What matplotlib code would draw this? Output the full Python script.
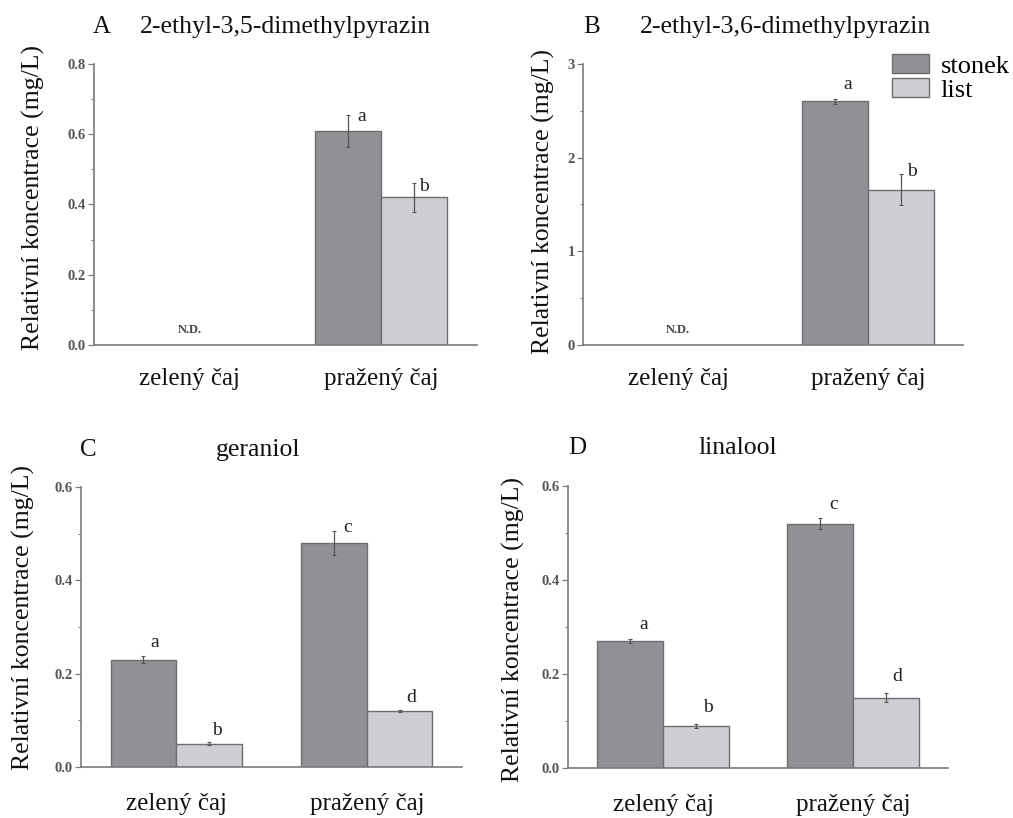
import matplotlib
matplotlib.use("Agg")
import matplotlib.pyplot as plt
from matplotlib.patches import Patch
from matplotlib.ticker import MultipleLocator

plt.rcParams['font.family'] = ['Liberation Serif', 'DejaVu Serif']

groups = ["zelený čaj", "pražený čaj"]
series = ["stonek", "list"]

panel_letters = ["A", "B", "C", "D"]
compounds = ["2-ethyl-3,5-dimethylpyrazin", "2-ethyl-3,6-dimethylpyrazin",
             "geraniol", "linalool"]

# concentrations [stonek, list] per group; None = not detected
stonek_vals = [[None, 0.61], [None, 2.60], [0.23, 0.48], [0.27, 0.52]]
stonek_err = [[0, 0.045], [0, 0.03], [0.008, 0.025], [0.004, 0.012]]
list_vals = [[None, 0.42], [None, 1.66], [0.05, 0.12], [0.09, 0.15]]
list_err = [[0, 0.04], [0, 0.17], [0.003, 0.002], [0.004, 0.01]]

stonek_sig = [[None, "a"], [None, "a"], ["a", "c"], ["a", "c"]]
list_sig = [[None, "b"], [None, "b"], ["b", "d"], ["b", "d"]]

y_max = [0.8, 3, 0.6, 0.6]
y_major = [0.2, 1, 0.2, 0.2]
y_fmt = ["{:.1f}", "{:.0f}", "{:.1f}", "{:.1f}"]

# layout: axes rectangles in pixels (left, top, right, bottom)
W, H = 1013, 818
rects_px = [(94, 64, 477, 345), (583, 64, 963, 345),
            (81, 487, 462, 767), (568, 486, 948, 768)]
# y-label anchor in pixels (right edge x, centre y)
ylabel_px = [(45, 197), (555, 202), (35, 618), (525, 630)]
# x tick label pad (points)
xpad = [16.5, 16.5, 18.5, 18.5]
# significance letter offsets in pixels (dx, dy) from the top of each error bar
sig_off_stonek = [[None, (13, -2)], [None, (12, 14)], [(11, 13), (14, 4)], [(13, 15), (13, 13)]]
sig_off_list = [[None, (10, -3)], [None, (11, 2)], [(8, 12), (12, 13)], [(12, 16), (11, 16)]]
# panel letter / title positions in pixels
letter_px = [(102, 27), (592, 27), (88, 450), (577, 448)]
title_px = [(285, 27), (785, 27), (258, 450), (738, 448)]

c_dark = "#8f9195"
c_light = "#cdcfd2"
c_edge = "#6e6e70"
c_axis = "#7a7a7a"
c_tick = "#555555"

PX = 72 / 100  # points per pixel

fig = plt.figure(figsize=(W / 100, H / 100), dpi=100)
bw = 0.345

for i in range(4):
    l, t, r, b = rects_px[i]
    ax = fig.add_axes([l / W, 1 - b / H, (r - l) / W, (b - t) / H])
    for j, g in enumerate(groups):
        for k, (vals, errs, sigs, offs, col) in enumerate([
                (stonek_vals, stonek_err, stonek_sig, sig_off_stonek, c_dark),
                (list_vals, list_err, list_sig, sig_off_list, c_light)]):
            v = vals[i][j]
            if v is None:
                continue
            x = j + (k - 0.5) * bw
            e = errs[i][j]
            ax.bar(x, v, width=bw, color=col, edgecolor=c_edge, linewidth=1.0, zorder=2)
            ax.errorbar(x, v, yerr=e, fmt='none', ecolor="#555555", elinewidth=0.9,
                        capsize=1.5, capthick=0.8, zorder=3)
            dx, dy = offs[i][j]
            ax.annotate(sigs[i][j], xy=(x, v + e), xytext=(dx * PX, dy * PX),
                        textcoords="offset points", ha="center", va="center",
                        fontsize=14, color="#222222", zorder=4)
        if all(vals[i][j] is None for vals in (stonek_vals, list_vals)):
            ax.annotate("N.D.", xy=(j, 0), xytext=(0, 15 * PX),
                        textcoords="offset points", ha="center", va="center",
                        fontsize=9, fontweight="bold", color="#444444")

    ax.set_xlim(-0.5, 1.5)
    ax.set_ylim(0, y_max[i])
    ax.set_xticks(range(len(groups)))
    ax.set_xticklabels(groups, fontsize=18, color="#111111")
    ax.tick_params(axis="x", length=0, pad=xpad[i])
    ax.yaxis.set_major_locator(MultipleLocator(y_major[i]))
    ax.yaxis.set_minor_locator(MultipleLocator(y_major[i] / 2))
    ax.set_yticklabels([y_fmt[i].format(v) for v in ax.get_yticks()])
    ax.tick_params(axis="y", which="major", length=4, width=0.9, color=c_axis,
                   labelsize=10.5, labelcolor=c_tick, pad=2)
    ax.tick_params(axis="y", which="minor", length=2, width=0.7, color=c_axis)
    for lab in ax.get_yticklabels():
        lab.set_fontweight("bold")
    for s in ("top", "right"):
        ax.spines[s].set_visible(False)
    for s in ("left", "bottom"):
        ax.spines[s].set_color(c_axis)
        ax.spines[s].set_linewidth(1.2)
    ax.set_ylabel("Relativní koncentrace (mg/L)", fontsize=18.5, color="#111111")
    yx, yy = ylabel_px[i]
    ax.yaxis.set_label_coords((yx - l) / (r - l), (b - yy) / (b - t))

    lx, ly = letter_px[i]
    fig.text(lx / W, 1 - ly / H, panel_letters[i], fontsize=18, ha="center",
             va="center", color="#111111")
    tx, ty = title_px[i]
    fig.text(tx / W, 1 - ty / H, compounds[i], fontsize=18.5, ha="center",
             va="center", color="#111111")

    if i == 1:
        handles = [Patch(facecolor=c_dark, edgecolor=c_edge, label=series[0]),
                   Patch(facecolor=c_light, edgecolor=c_edge, label=series[1])]
        ax.legend(handles=handles, loc="upper left",
                  bbox_to_anchor=((892 - l) / (r - l), 1 + (64 - 54) / (b - t)),
                  frameon=False, fontsize=19, handlelength=1.4, handleheight=0.75,
                  handletextpad=0.45, labelspacing=0.0, borderaxespad=0,
                  borderpad=0)

fig.savefig("out.png", dpi=100)
